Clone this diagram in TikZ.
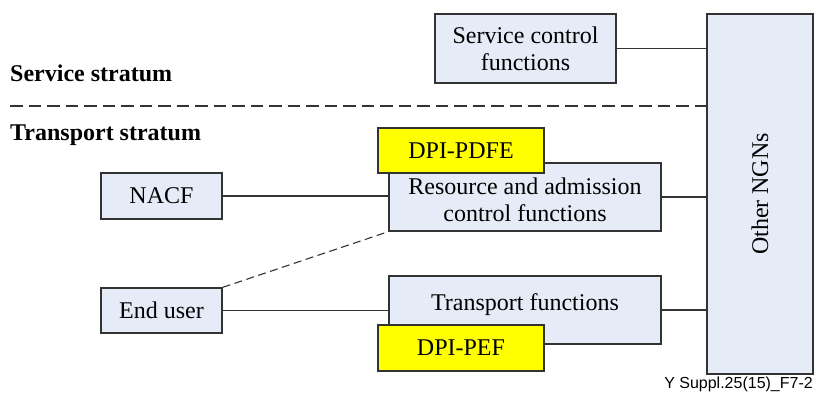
\documentclass[tikz,border=0pt]{standalone}
\usepackage{fontspec}
\setmainfont{Liberation Serif}
\newfontfamily\labelsans{Liberation Sans}
\definecolor{boxfill}{HTML}{E6ECF7}
\definecolor{boxline}{HTML}{333333}
\definecolor{dpiyellow}{HTML}{FFFF00}
\begin{document}
\begin{tikzpicture}[x=1pt,y=-1pt,
  txt/.style={font=\fontsize{24}{27}\selectfont,align=center,inner sep=0pt},
  fnbox/.style={txt,draw=boxline,line width=1.3pt,fill=boxfill},
  dpibox/.style={txt,draw=boxline,line width=1.3pt,fill=dpiyellow},
  link/.style={draw=boxline,line width=1.1pt},
  stratum/.style={font=\fontsize{24}{27}\selectfont\bfseries,anchor=west,inner sep=0pt}]
\useasboundingbox (0,0) rectangle (814,397);

% other networks column
\node[fnbox,minimum width=106pt,minimum height=360pt] (ngn) at (760,194)
  {\rotatebox{90}{Other NGNs}};

% service stratum
\node[fnbox,minimum width=181pt,minimum height=69pt] (scf) at (525.5,48.5)
  {Service control\\functions};
\node[stratum] (sst) at (10,73) {Service stratum};
\coordinate (divl) at (10,106);
\draw[boxline,line width=2.5pt,dash pattern=on 12.5pt off 6pt] (divl) -- (divl -| ngn.west);
\node[stratum] (tst) at (10,135) {Transport stratum};

% transport stratum
\node[fnbox,minimum width=121pt,minimum height=46pt] (nacf) at (161.5,196) {NACF};
\node[fnbox,minimum width=272pt,minimum height=68pt] (racf) at (525,197) {};
\node[txt] (racft) at (525,200) {Resource and admission\\control functions};
\node[dpibox,minimum width=166pt,minimum height=45pt] (pdfe) at (461,150.5) {DPI-PDFE};

\node[fnbox,minimum width=121pt,minimum height=45pt] (eu) at (161.5,310.5) {End user};
\node[fnbox,minimum width=272pt,minimum height=68pt] (tf) at (525,310) {};
\node[txt] (tft) at (525,305) {Transport functions};
\node[dpibox,minimum width=166pt,minimum height=46pt] (pef) at (461,348) {DPI-PEF};

% connectors
\draw[link] (scf.east) -- (scf.east -| ngn.west);
\draw[link] (nacf.east) -- (nacf.east -| racf.west);
\draw[link] (racf.east) -- (racf.east -| ngn.west);
\draw[link] (eu.east) -- (eu.east -| tf.west);
\draw[link] (tf.east) -- (tf.east -| ngn.west);
\draw[link,dash pattern=on 8pt off 4.5pt] (eu.north east) -- (racf.south west);

\node[font=\labelsans\fontsize{16}{18}\selectfont,anchor=east,inner sep=0pt] (fig) at (813,384)
  {Y Suppl.25(15)\_F7-2};
\end{tikzpicture}
\end{document}
